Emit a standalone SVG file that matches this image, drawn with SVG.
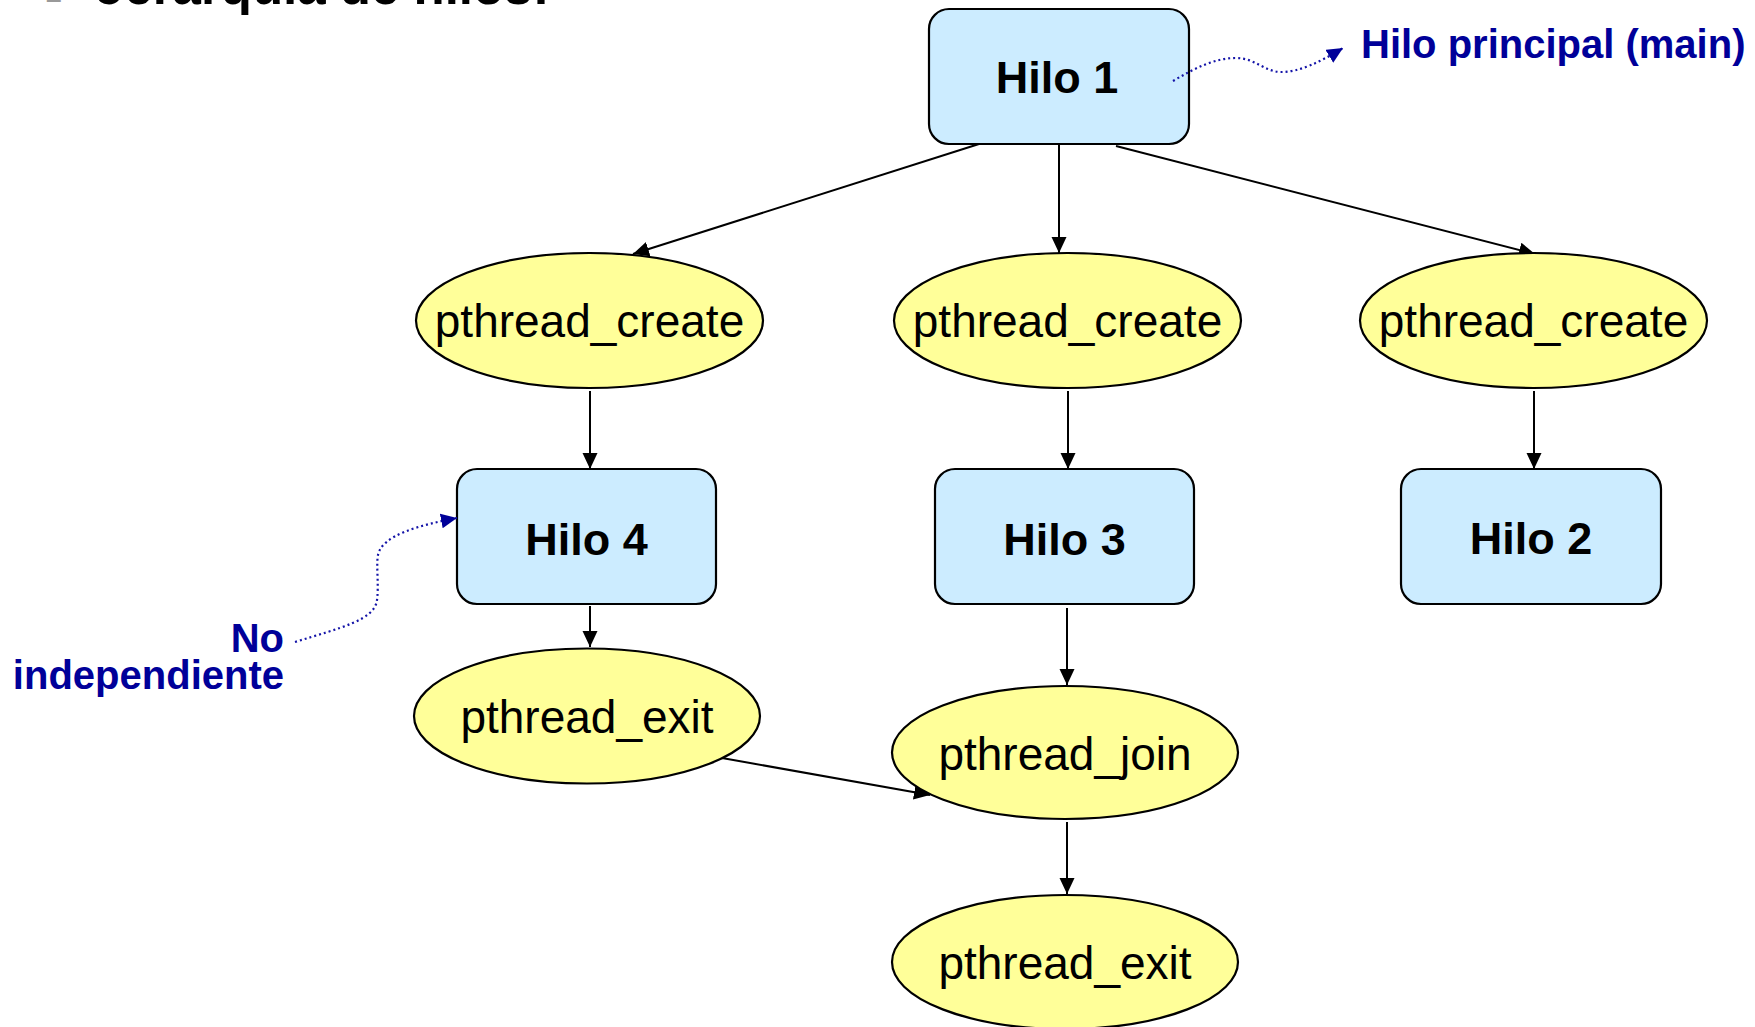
<svg xmlns="http://www.w3.org/2000/svg" width="1755" height="1027" viewBox="0 0 1755 1027">
<style>
.box{fill:#CCECFF;stroke:#000;stroke-width:2.2}
.ell{fill:#FFFF99;stroke:#000;stroke-width:2.2}
.bt{font-family:"Liberation Sans",Arial,sans-serif;font-weight:bold;font-size:45px;fill:#000;text-anchor:middle}
.et{font-family:"Liberation Sans",Arial,sans-serif;font-size:46px;fill:#000;text-anchor:middle}
.ann{font-family:"Liberation Sans",Arial,sans-serif;font-weight:bold;font-size:40px;fill:#000099}
.edge{stroke:#000;stroke-width:2;fill:none;marker-end:url(#ah)}
.dot{stroke:#1414A8;stroke-width:2.2;fill:none;stroke-dasharray:2 3;marker-end:url(#ahb)}
</style>
<defs>
<marker id="ah" markerUnits="userSpaceOnUse" markerWidth="18" markerHeight="16" refX="16" refY="7.5" orient="auto">
<path d="M0,0 L16,7.5 L0,15 Z" fill="#000"/>
</marker>
<marker id="ahb" markerUnits="userSpaceOnUse" markerWidth="18" markerHeight="16" refX="16" refY="7.5" orient="auto">
<path d="M0,0 L16,7.5 L0,15 Z" fill="#000099"/>
</marker>
</defs>
<rect width="1755" height="1027" fill="#fff"/>
<g id="title">
<text x="46" y="8" font-family="'Liberation Sans',Arial,sans-serif" font-weight="bold" font-size="28" fill="#999">–</text>
<text x="96" y="4" font-family="'Liberation Sans',Arial,sans-serif" font-weight="bold" font-size="51" fill="#000">Jerarquía de hilos:</text>
</g>
<g id="connectors">
<path class="edge" d="M979,144 L633,254"/>
<path class="edge" d="M1059,144 L1059,253"/>
<path class="edge" d="M1116,146 L1535,254"/>
<path class="edge" d="M590,391 L590,469"/>
<path class="edge" d="M1068,391 L1068,469"/>
<path class="edge" d="M1534,391 L1534,469"/>
<path class="edge" d="M590,606 L590,647"/>
<path class="edge" d="M1067,608 L1067,685"/>
<path class="edge" d="M1067,822 L1067,894"/>
<path class="edge" d="M722,758 L930,795"/>
</g>
<g id="hilo1">
<rect class="box" x="929" y="9" width="260" height="135" rx="20"/>
<text class="bt" x="1057" y="93">Hilo 1</text>
</g>
<g id="create1">
<ellipse class="ell" cx="589.5" cy="320.5" rx="173.5" ry="67.5"/>
<text class="et" x="589.5" y="337">pthread_create</text>
</g>
<g id="create2">
<ellipse class="ell" cx="1067.5" cy="320.5" rx="173.5" ry="67.5"/>
<text class="et" x="1067.5" y="337">pthread_create</text>
</g>
<g id="create3">
<ellipse class="ell" cx="1533.5" cy="320.5" rx="173.5" ry="67.5"/>
<text class="et" x="1533.5" y="337">pthread_create</text>
</g>
<g id="hilo4">
<rect class="box" x="457" y="469" width="259" height="135" rx="20"/>
<text class="bt" x="586.5" y="555">Hilo 4</text>
</g>
<g id="hilo3">
<rect class="box" x="935" y="469" width="259" height="135" rx="20"/>
<text class="bt" x="1064.5" y="555">Hilo 3</text>
</g>
<g id="hilo2">
<rect class="box" x="1401" y="469" width="260" height="135" rx="20"/>
<text class="bt" x="1531" y="554">Hilo 2</text>
</g>
<g id="exit1">
<ellipse class="ell" cx="587" cy="716" rx="173" ry="67.5"/>
<text class="et" x="587" y="733">pthread_exit</text>
</g>
<g id="join">
<ellipse class="ell" cx="1065" cy="752.5" rx="173" ry="66.5"/>
<text class="et" x="1065" y="770">pthread_join</text>
</g>
<g id="exit2">
<ellipse class="ell" cx="1065" cy="962" rx="173" ry="67"/>
<text class="et" x="1065" y="979">pthread_exit</text>
</g>
<g id="annotation-connectors">
<path class="dot" d="M1173,81 C1195,68 1215,58 1236,58 C1255,58 1265,72 1281,72 C1300,72 1320,62 1343,48"/>
<path class="dot" d="M295,642 C340,628 375,620 377,600 C379,585 376,565 378,555 C382,535 420,525 457,518"/>
</g>
<g id="ann-main">
<text class="ann" x="1361" y="58">Hilo principal (main)</text>
</g>
<g id="ann-noindep">
<text class="ann" x="284" y="652" text-anchor="end">No</text>
<text class="ann" x="284" y="689" text-anchor="end">independiente</text>
</g>
</svg>
